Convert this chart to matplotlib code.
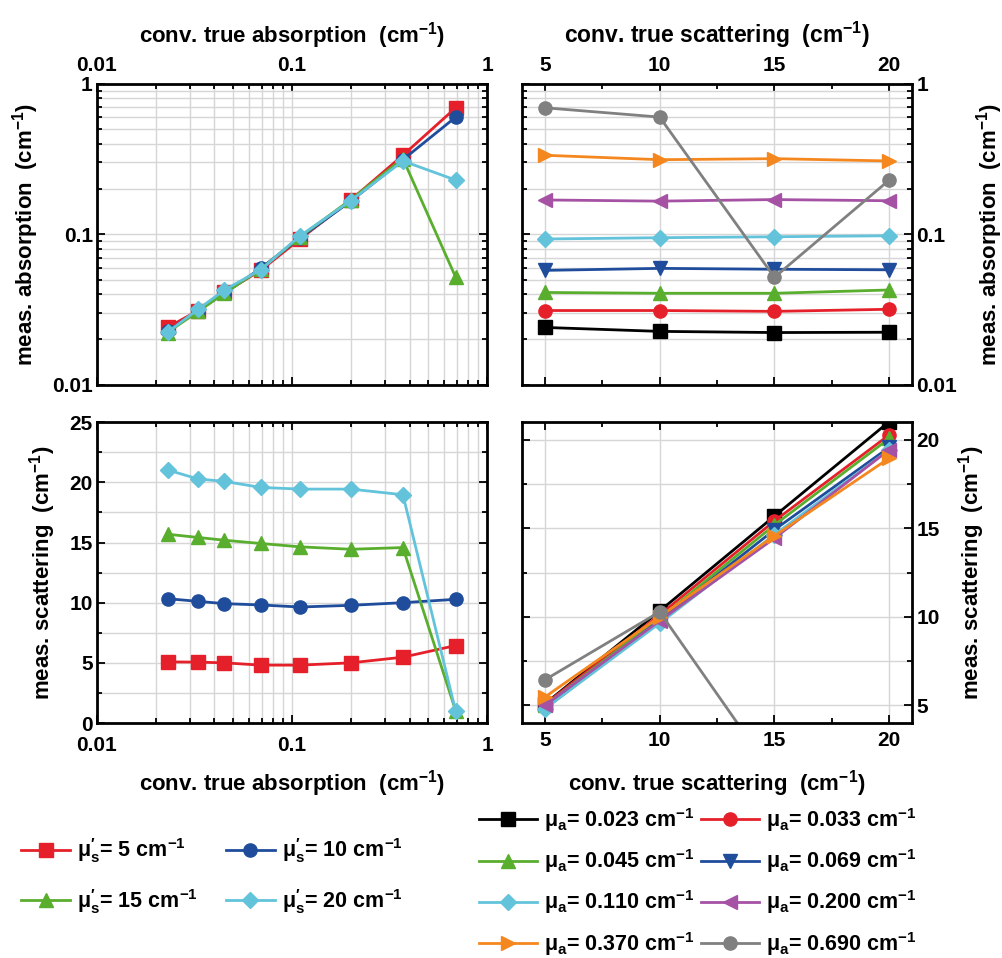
import matplotlib
matplotlib.use('Agg')
import matplotlib.pyplot as plt
from matplotlib import ticker
from matplotlib.lines import Line2D

plt.rcParams['font.family'] = ['Liberation Sans', 'DejaVu Sans']
plt.rcParams['font.weight'] = 'bold'
plt.rcParams['axes.labelweight'] = 'bold'
plt.rcParams['mathtext.fontset'] = 'custom'
plt.rcParams['mathtext.rm'] = 'Liberation Sans:bold'
plt.rcParams['mathtext.bf'] = 'Liberation Sans:bold'
plt.rcParams['mathtext.it'] = 'Liberation Sans:bold'
plt.rcParams['mathtext.default'] = 'bf'

# true (converted) optical properties
true_abs = [0.023, 0.033, 0.045, 0.069, 0.11, 0.20, 0.37, 0.69]
true_scat = [5, 10, 15, 20]

# measured absorption, one list per true scattering value
meas_abs_s5 = [0.0240, 0.0311, 0.0410, 0.0575, 0.0930, 0.169, 0.335, 0.693]
meas_abs_s10 = [0.0226, 0.0311, 0.0405, 0.0593, 0.0948, 0.166, 0.313, 0.601]
meas_abs_s15 = [0.0222, 0.0307, 0.0405, 0.0585, 0.0962, 0.170, 0.318, 0.0517]
meas_abs_s20 = [0.0223, 0.0317, 0.0426, 0.0580, 0.0977, 0.167, 0.307, 0.229]

# measured scattering, one list per true scattering value
meas_scat_s5 = [5.08, 5.06, 5.00, 4.81, 4.81, 5.00, 5.47, 6.44]
meas_scat_s10 = [10.33, 10.11, 9.92, 9.81, 9.64, 9.78, 10.00, 10.28]
meas_scat_s15 = [15.69, 15.42, 15.19, 14.92, 14.64, 14.44, 14.58, 1.00]
meas_scat_s20 = [21.03, 20.28, 20.08, 19.58, 19.44, 19.44, 18.97, 0.97]

meas_abs = [meas_abs_s5, meas_abs_s10, meas_abs_s15, meas_abs_s20]
meas_scat = [meas_scat_s5, meas_scat_s10, meas_scat_s15, meas_scat_s20]

scat_labels = [r"μ$^{\prime}_{s}$= 5 cm$^{-1}$", r"μ$^{\prime}_{s}$= 10 cm$^{-1}$",
               r"μ$^{\prime}_{s}$= 15 cm$^{-1}$", r"μ$^{\prime}_{s}$= 20 cm$^{-1}$"]
abs_labels = [r"μ$_{a}$= %.3f cm$^{-1}$" % a for a in true_abs]

scat_colors = ['#e6202a', '#1f4d9c', '#5aae2e', '#62c3db']
scat_markers = ['s', 'o', '^', 'D']
abs_colors = ['black', '#e6202a', '#5aae2e', '#1f4d9c', '#62c3db', '#a552a5', '#f5871f', '#808080']
abs_markers = ['s', 'o', '^', 'v', 'D', '<', '>', 'o']

fig = plt.figure(figsize=(10.03, 9.58), dpi=100)
w, h = 0.389, 0.314
ax_tl = fig.add_axes([0.0967, 0.5985, w, h])
ax_tr = fig.add_axes([0.5204, 0.5985, w, h])
ax_bl = fig.add_axes([0.0967, 0.2453, w, h])
ax_br = fig.add_axes([0.5204, 0.2453, w, h])

TICK = 15
LAB = 16
MS = 9.5
grid_kw = dict(color='#d6d6d6', linewidth=1.0)


def msize(m):
    return MS if m != 'D' else MS - 1.5


def style(ax):
    for s in ax.spines.values():
        s.set_linewidth(2)
    ax.tick_params(which='both', direction='in', top=True, bottom=True, left=True, right=True,
                   labelsize=TICK, width=1.3, pad=3)
    ax.tick_params(axis='x', which='both', pad=6)
    ax.tick_params(which='major', length=6)
    ax.tick_params(which='minor', length=3.5)
    ax.set_axisbelow(True)


logfmt = ticker.FuncFormatter(lambda v, p: '%g' % v)

# top left: measured absorption vs true absorption
for i in range(4):
    ax_tl.plot(true_abs, meas_abs[i], color=scat_colors[i], marker=scat_markers[i],
               ms=msize(scat_markers[i]), lw=2, mec=scat_colors[i])
ax_tl.set_xscale('log')
ax_tl.set_yscale('log')
ax_tl.set_xlim(0.01, 1)
ax_tl.set_ylim(0.01, 1)
style(ax_tl)
ax_tl.xaxis.set_major_formatter(logfmt)
ax_tl.yaxis.set_major_formatter(logfmt)
ax_tl.xaxis.set_minor_formatter(ticker.NullFormatter())
ax_tl.yaxis.set_minor_formatter(ticker.NullFormatter())
ax_tl.tick_params(labelbottom=False, labeltop=True)
ax_tl.xaxis.set_label_position('top')
ax_tl.set_xlabel('conv. true absorption  (cm$^{-1}$)', fontsize=LAB, labelpad=10)
ax_tl.set_ylabel('meas. absorption  (cm$^{-1}$)', fontsize=LAB, labelpad=8)
ax_tl.grid(True, which='both', **grid_kw)

# top right: measured absorption vs true scattering
for j in range(8):
    ax_tr.plot(true_scat, [meas_abs[i][j] for i in range(4)], color=abs_colors[j],
               marker=abs_markers[j], ms=msize(abs_markers[j]), lw=2,
               mec=abs_colors[j], zorder=3 if j == 7 else 2)
ax_tr.set_yscale('log')
ax_tr.set_xlim(4, 21)
ax_tr.set_ylim(0.01, 1)
style(ax_tr)
ax_tr.set_xticks(true_scat)
ax_tr.xaxis.set_minor_locator(ticker.FixedLocator([7.5, 12.5, 17.5]))
ax_tr.yaxis.set_major_formatter(logfmt)
ax_tr.yaxis.set_minor_formatter(ticker.NullFormatter())
ax_tr.tick_params(labelbottom=False, labeltop=True, labelleft=False, labelright=True)
ax_tr.xaxis.set_label_position('top')
ax_tr.yaxis.set_label_position('right')
ax_tr.set_xlabel('conv. true scattering  (cm$^{-1}$)', fontsize=LAB + 0.5, labelpad=10)
ax_tr.set_ylabel('meas. absorption  (cm$^{-1}$)', fontsize=LAB, labelpad=12)
ax_tr.grid(True, which='major', axis='x', **grid_kw)
ax_tr.grid(True, which='both', axis='y', **grid_kw)

# bottom left: measured scattering vs true absorption
for i in range(4):
    ax_bl.plot(true_abs, meas_scat[i], color=scat_colors[i], marker=scat_markers[i],
               ms=msize(scat_markers[i]), lw=2, mec=scat_colors[i])
ax_bl.set_xscale('log')
ax_bl.set_xlim(0.01, 1)
ax_bl.set_ylim(0, 25)
style(ax_bl)
ax_bl.tick_params(axis='x', which='both', pad=9)
ax_bl.xaxis.set_major_formatter(logfmt)
ax_bl.xaxis.set_minor_formatter(ticker.NullFormatter())
ax_bl.yaxis.set_major_locator(ticker.MultipleLocator(5))
ax_bl.yaxis.set_minor_locator(ticker.MultipleLocator(2.5))
ax_bl.set_xlabel('conv. true absorption  (cm$^{-1}$)', fontsize=LAB, labelpad=10)
ax_bl.set_ylabel('meas. scattering  (cm$^{-1}$)', fontsize=LAB, labelpad=8)
ax_bl.grid(True, which='both', **grid_kw)

# bottom right: measured scattering vs true scattering
for j in range(8):
    ax_br.plot(true_scat, [meas_scat[i][j] for i in range(4)], color=abs_colors[j],
               marker=abs_markers[j], ms=msize(abs_markers[j]), lw=2,
               mec=abs_colors[j])
ax_br.set_xlim(4, 21)
ax_br.set_ylim(4, 21)
style(ax_br)
ax_br.set_xticks(true_scat)
ax_br.xaxis.set_minor_locator(ticker.FixedLocator([7.5, 12.5, 17.5]))
ax_br.set_yticks([5, 10, 15, 20])
ax_br.yaxis.set_minor_locator(ticker.FixedLocator([7.5, 12.5, 17.5]))
ax_br.tick_params(labelleft=False, labelright=True)
ax_br.yaxis.set_label_position('right')
ax_br.set_xlabel('conv. true scattering  (cm$^{-1}$)', fontsize=LAB, labelpad=13)
ax_br.set_ylabel('meas. scattering  (cm$^{-1}$)', fontsize=LAB, labelpad=12)
ax_br.grid(True, which='major', axis='x', **grid_kw)
ax_br.grid(True, which='both', axis='y', **grid_kw)


# legends
def handle(c, m):
    return Line2D([], [], color=c, marker=m, lw=2, ms=msize(m), mec=c)


order = [0, 2, 1, 3]
fig.legend([handle(scat_colors[k], scat_markers[k]) for k in order],
           [scat_labels[k] for k in order], ncol=2, frameon=False,
           loc='upper left', bbox_to_anchor=(0.010, 0.138), fontsize=15.5,
           handlelength=2.3, handletextpad=0.3, columnspacing=1.3,
           labelspacing=1.0, borderpad=0)

order = [0, 2, 4, 6, 1, 3, 5, 7]
fig.legend([handle(abs_colors[k], abs_markers[k]) for k in order],
           [abs_labels[k] for k in order], ncol=2, frameon=False,
           loc='upper left', bbox_to_anchor=(0.467, 0.170), fontsize=15.5,
           handlelength=2.7, handletextpad=0.3, columnspacing=0.3,
           labelspacing=0.62, borderpad=0)

fig.savefig('out.png', dpi=100)
